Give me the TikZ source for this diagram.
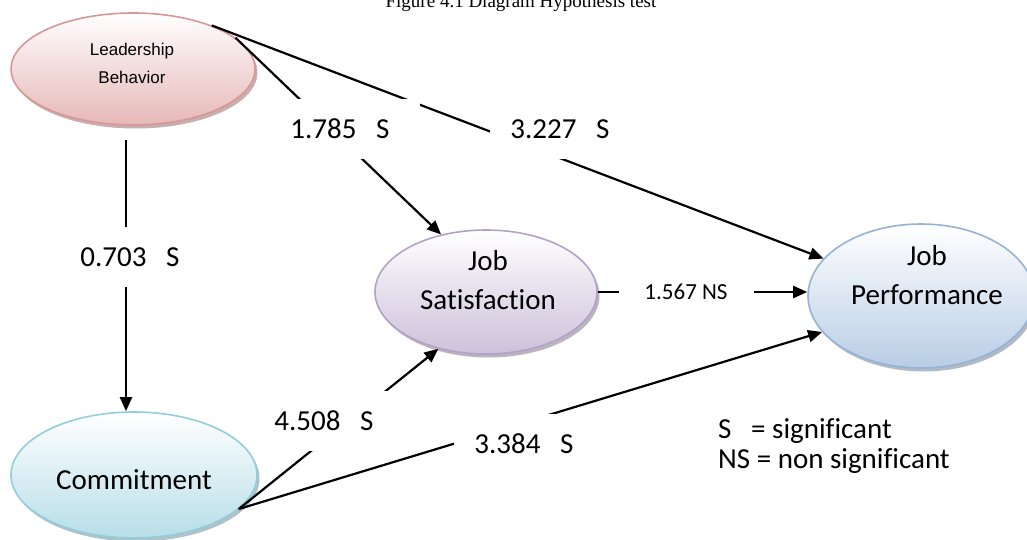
\documentclass[tikz,border=0pt]{standalone}
\usepackage{fontspec}
\setmainfont{Carlito}[Ligatures=NoCommon]
\newfontfamily\arialfont{Liberation Sans}
\newfontfamily\timesfont{Liberation Serif}
\usetikzlibrary{shapes.geometric,shadows,arrows.meta}

\definecolor{lbline}{RGB}{217,150,148}
\definecolor{lbfill}{RGB}{230,184,183}
\definecolor{jsline}{RGB}{179,162,199}
\definecolor{jsfill}{RGB}{204,193,218}
\definecolor{jpline}{RGB}{149,179,215}
\definecolor{jpfill}{RGB}{185,205,229}
\definecolor{cmline}{RGB}{147,205,221}
\definecolor{cmfill}{RGB}{183,222,232}

\tikzset{
  blob/.style 2 args={ellipse, draw=#1, line width=1.6pt, top color=white, bottom color=#2,
    inner sep=0pt, drop shadow={shadow xshift=2.5pt, shadow yshift=-3.5pt, fill=#1!65!black, opacity=.5}},
  bigtxt/.style={font=\fontsize{29}{39}\selectfont, align=center, inner sep=0pt},
  link/.style={line width=2.2pt, -{Triangle[length=14pt,width=12pt]}},
  val/.style={fill=white, font=\fontsize{29}{35}\selectfont, inner sep=0pt,
    minimum width=140pt, minimum height=60pt},
}

\begin{document}
\begin{tikzpicture}[x=1pt,y=-1pt]
        \useasboundingbox (0,0) rectangle (1027,540);

        % Caption, cut off at the top
        \node[anchor=base, font=\timesfont\fontsize{19}{21}\selectfont] (title) at (521,8) {Figure 4.1 Diagram Hypothesis test};

        % The four constructs
        \node[blob={lbline}{lbfill}, minimum width=244pt, minimum height=112pt] (lb) at (133,69) {};
        \node[blob={jsline}{jsfill}, minimum width=222pt, minimum height=124pt] (js) at (486,292) {};
        \node[blob={jpline}{jpfill}, minimum width=226pt, minimum height=144pt] (jp) at (921,296) {};
        \node[blob={cmline}{cmfill}, minimum width=246pt, minimum height=126pt] (cm) at (134,475) {};

        % Their names
        \node[bigtxt, font=\arialfont\fontsize{17}{28}\selectfont] (lbtxt) at (132,63) {Leadership\\Behavior};
        \node[bigtxt] (jstxt) at (488,280) {Job\\Satisfaction};
        \node[bigtxt] (jptxt) at (927,275) {Job\\Performance};
        \node[bigtxt] (cmtxt) at (134,480) {Commitment};

        % Paths
        \draw[link, shorten <=14pt] ([xshift=-7pt]lb.south) -- ([xshift=-7pt]lb.south |- cm.north);
        \draw[link] (lb.17) -- (js.128);
        \draw[link] (lb.29) -- (jp.159);
        \draw[link] (js.east) -- (js.east -| jp.west);
        \draw[link] (cm.-18) -- (js.230);
        \draw[link] (cm.-18) -- (jp.200);

        % t-values, each on a white box over its path
        \node[val] (v1) at (130,257) {0.703\ \ \ S};
        \node[val, minimum width=160pt] (v2) at (340,129) {1.785\ \ \ S};
        \node[val] (v3) at (560,129) {3.227\ \ \ S};
        \node[val, minimum width=135pt, font=\fontsize{23}{27}\selectfont] (v4) at (686,292) {1.567 NS};
        \node[val, minimum width=130pt] (v5) at (324,421) {4.508\ \ \ S};
        \node[val] (v6) at (524,444) {3.384\ \ \ S};

        % Key
        \node[bigtxt, align=left, anchor=west, font=\fontsize{29}{30}\selectfont] (key) at (718,446) {S\ \ \ = significant\\NS = non significant};
\end{tikzpicture}
\end{document}
